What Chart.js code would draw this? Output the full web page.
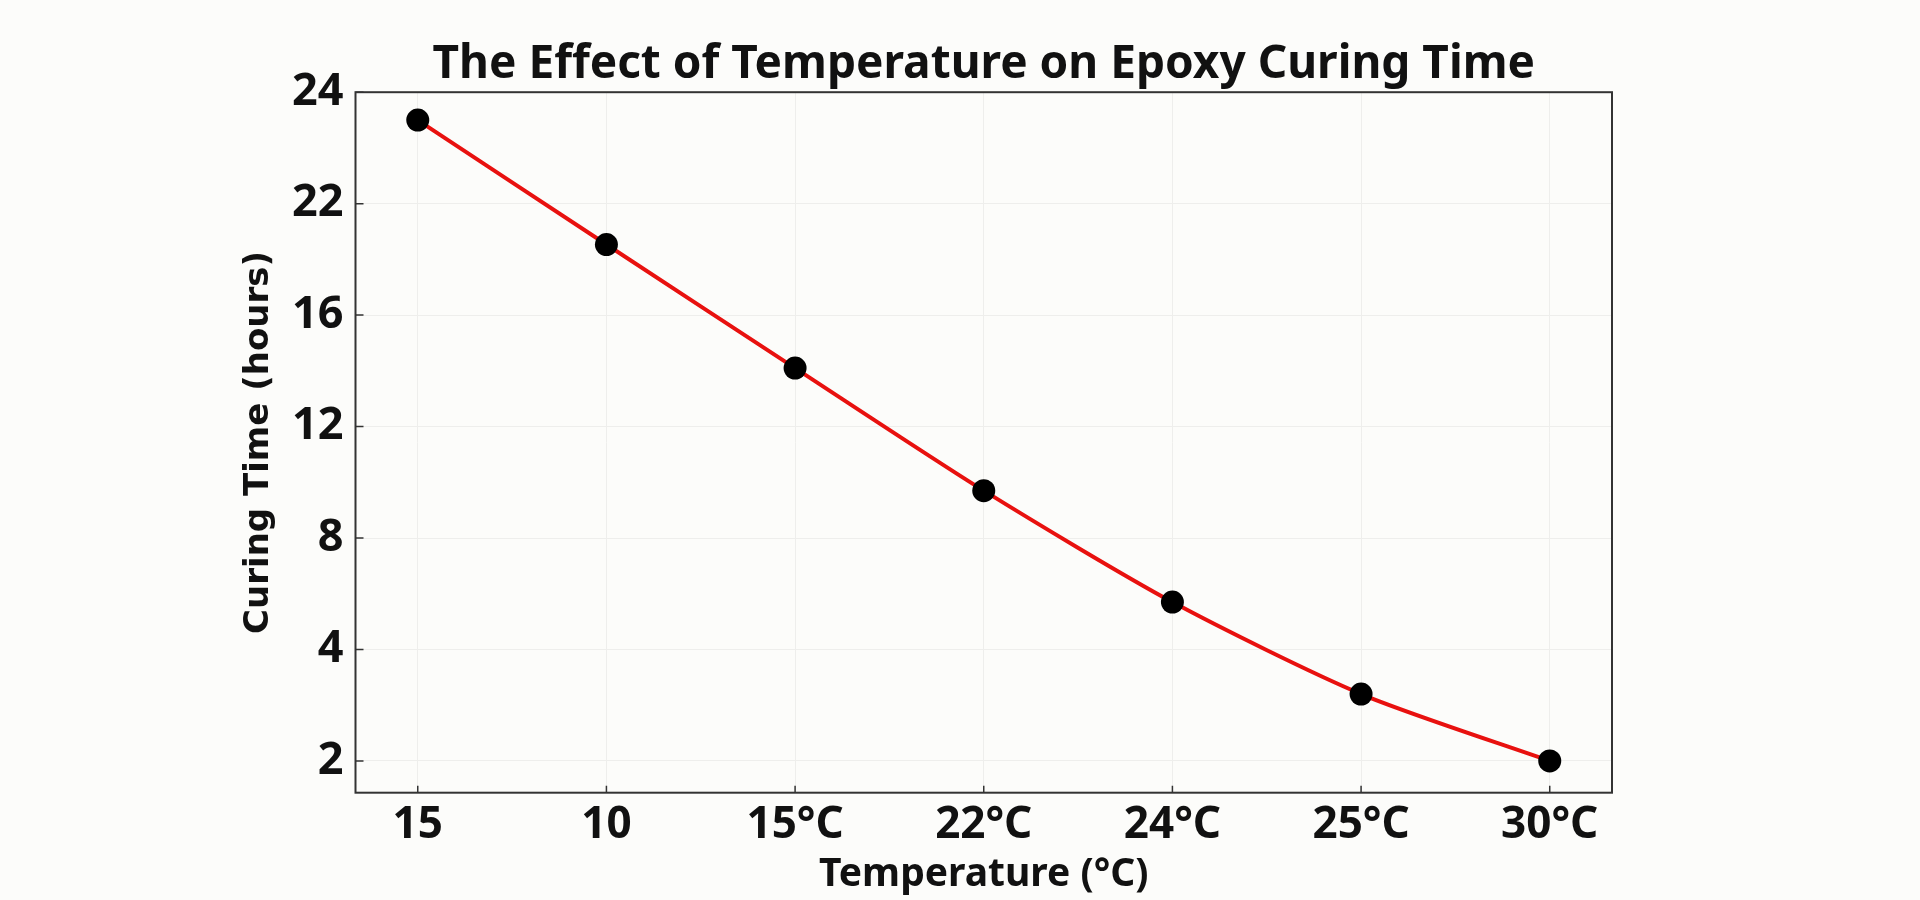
<!DOCTYPE html>
<html lang="en">
<head>
    <meta charset="UTF-8">
    <title>The Effect of Temperature on Epoxy Curing Time</title>
    <script src="https://cdn.jsdelivr.net/npm/chart.js"></script>
    <style>
        html, body {
            margin: 0;
            padding: 0;
            background: #fcfcfa;
        }
        .chart-container {
            width: 1920px;
            height: 900px;
        }
    </style>
</head>
<body>
    <div class="chart-container">
        <canvas id="curingChart"></canvas>
    </div>

    <script>
        // x categories as printed on the axis
        const temperatureLabels = ['15', '10', '15°C', '22°C', '24°C', '25°C', '30°C'];
        // y tick labels (evenly spaced on the axis, not evenly valued)
        const yTickLabels = [2, 4, 8, 12, 16, 22, 24];
        // curing time in hours, read against the tick labels
        const curingHours = [23.5, 19.8, 14.1, 9.7, 5.7, 3.2, 2.0];

        // place a value on the evenly spaced tick axis (piecewise between labels)
        function toAxisPos(v) {
            for (let i = 0; i < yTickLabels.length - 1; i++) {
                const a = yTickLabels[i], b = yTickLabels[i + 1];
                if (v <= b) return i + (v - a) / (b - a);
            }
            return yTickLabels.length - 1;
        }

        const points = curingHours.map((h, i) => ({ x: i, y: toAxisPos(h) }));

        // plot frame + inward tick marks
        const framePlugin = {
            id: 'frame',
            afterDatasetsDraw(chart) {
                const { ctx, chartArea: a, scales } = chart;
                ctx.save();
                ctx.strokeStyle = '#333';
                ctx.lineWidth = 2;
                ctx.strokeRect(a.left, a.top, a.right - a.left, a.bottom - a.top);
                ctx.lineWidth = 1.5;
                ctx.beginPath();
                scales.y.ticks.forEach((t, i) => {
                    const y = scales.y.getPixelForTick(i);
                    ctx.moveTo(a.left, y);
                    ctx.lineTo(a.left + 8, y);
                });
                scales.x.ticks.forEach((t, i) => {
                    const x = scales.x.getPixelForTick(i);
                    ctx.moveTo(x, a.bottom);
                    ctx.lineTo(x, a.bottom - 7);
                });
                ctx.stroke();
                ctx.restore();
            }
        };

        const ctx = document.getElementById('curingChart').getContext('2d');
        const curingChart = new Chart(ctx, {
            type: 'line',
            data: {
                datasets: [{
                    label: 'Curing Time',
                    data: points,
                    borderColor: '#e8110f',
                    borderWidth: 4,
                    tension: 0.25,
                    pointRadius: 11.5,
                    pointBackgroundColor: '#000',
                    pointBorderWidth: 0,
                    pointHoverRadius: 11.5
                }]
            },
            options: {
                responsive: true,
                maintainAspectRatio: false,
                animation: false,
                layout: {
                    padding: { left: 235, right: 308, top: 37, bottom: 0 }
                },
                scales: {
                    x: {
                        type: 'linear',
                        min: -0.33,
                        max: 6.33,
                        afterBuildTicks: scale => {
                            scale.ticks = temperatureLabels.map((_, i) => ({ value: i }));
                        },
                        afterFit: scale => { scale.height = 107.3; },
                        ticks: {
                            callback: v => temperatureLabels[v],
                            autoSkip: false,
                            maxRotation: 0,
                            padding: 6,
                            color: '#111',
                            font: { family: 'Noto Sans', size: 44, weight: 'bold' }
                        },
                        grid: { color: '#eeeeec', lineWidth: 1, drawTicks: false },
                        border: { display: false },
                        title: {
                            display: true,
                            text: 'Temperature (°C)',
                            color: '#111',
                            padding: { top: 2, bottom: 2 },
                            font: { family: 'Noto Sans', size: 39, weight: 'bold' }
                        }
                    },
                    y: {
                        type: 'linear',
                        min: -0.285,
                        max: 6,
                        afterBuildTicks: scale => {
                            scale.ticks = yTickLabels.map((_, i) => ({ value: i }));
                        },
                        afterFit: scale => { scale.width = 120.5; },
                        ticks: {
                            callback: v => yTickLabels[v],
                            padding: 12,
                            color: '#111',
                            font: { family: 'Noto Sans', size: 45, weight: 'bold' }
                        },
                        grid: { color: '#eeeeec', lineWidth: 1, drawTicks: false },
                        border: { display: false },
                        title: {
                            display: true,
                            text: 'Curing Time (hours)',
                            color: '#111',
                            padding: { top: 4, bottom: 4 },
                            font: { family: 'DejaVu Sans', size: 34, weight: 'bold' }
                        }
                    }
                },
                plugins: {
                    legend: { display: false },
                    tooltip: { enabled: false },
                    title: {
                        display: true,
                        fullSize: false,
                        text: 'The Effect of Temperature on Epoxy Curing Time',
                        color: '#111',
                        padding: { top: 0, bottom: 0 },
                        font: { family: 'Noto Sans', size: 46, weight: 'bold' }
                    }
                }
            },
            plugins: [framePlugin]
        });
    </script>
</body>
</html>
